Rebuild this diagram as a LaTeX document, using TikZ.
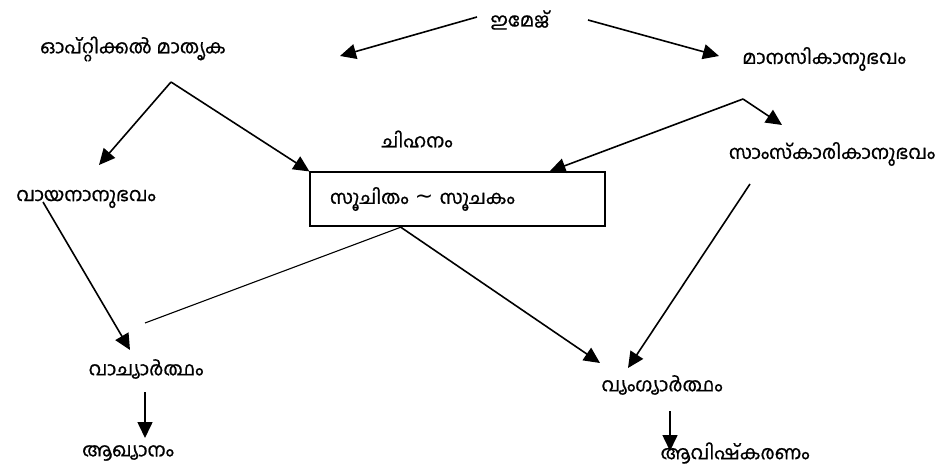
\documentclass[tikz,border=0pt]{standalone}
\usepackage{fontspec}
\newfontfamily\mlfont[Script=Malayalam,FakeBold=0.8]{Hind Kochi}
\newfontfamily\symfont{DejaVu Sans}
\usetikzlibrary{arrows.meta}
\begin{document}
\begin{tikzpicture}[x=1pt,y=-1pt,
	lbl/.style={font=\mlfont\fontsize{19}{21}\selectfont,inner sep=0pt},
	arr/.style={line width=1.6pt,-{Triangle[length=16pt,width=15pt]}},
	plain/.style={line width=1.1pt}]

	\useasboundingbox (0,0) rectangle (944,470);

	% top row
	\node[lbl] (image) at (520,20)  {ഇമേജ്};
	\node[lbl] (optic) at (133,49)  {ഓപ്റ്റിക്കൽ മാതൃക};
	\node[lbl] (manas) at (824,59)  {മാനസികാനുഭവം};

	% middle row
	\node[lbl] (chihn) at (417,139) {ചിഹനം};
	\node[lbl] (samsk) at (832,154) {സാംസ്കാരികാനുഭവം};
	\node[lbl] (vayan) at (86,199)  {വായനാനുഭവം};
	\node[lbl,draw,line width=1.1pt,inner xsep=20pt,text width=255pt,
		minimum height=54pt,align=left] (sucha) at (457.5,199)
		{സൂചിതം {\symfont\fontsize{22}{22}\selectfont\textasciitilde} സൂചകം};

	% bottom rows
	\node[lbl] (vachy) at (146,369) {വാച്യാർത്ഥം};
	\node[lbl] (vyang) at (662,385) {വ്യംഗ്യാർത്ഥം};
	\node[lbl] (akhya) at (128,453) {ആഖ്യാനം};
	\node[lbl] (avish) at (735,453) {ആവിഷ്കരണം};

	% free ends
	\coordinate (imgL)  at (477,17);
	\coordinate (imgR)  at (588,20);
	\coordinate (optT)  at (340,56);
	\coordinate (manT)  at (719,56);
	\coordinate (optA)  at (171,82);
	\coordinate (vayT)  at (99,165);
	\coordinate (manA)  at (743,99);
	\coordinate (samT)  at (782,125);
	\coordinate (vayS)  at (43,202);
	\coordinate (vacT)  at (130,350);
	\coordinate (vacR)  at (145,323);
	\coordinate (sucL)  at (404,226);
	\coordinate (sucR)  at (399,226);
	\coordinate (vyaL)  at (600,363);
	\coordinate (samS)  at (750,184);
	\coordinate (vyaR)  at (628,368);
	\coordinate (vacB)  at (145,392);
	\coordinate (akhT)  at (145,438);
	\coordinate (vyaB)  at (670,411);
	\coordinate (avsT)  at (670,451);

	%arrows from the top
	\draw[arr] (imgL) -- (optT);
	\draw[arr] (imgR) -- (manT);
	\draw[arr] (optA) -- (vayT);
	\draw[arr] (optA) -- (sucha.north west);
	\draw[arr] (manA) -- ([xshift=-56pt]sucha.north east);
	\draw[arr] (manA) -- (samT);

	%arrows to the meanings
	\draw[arr] (vayS) -- (vacT);
	\draw[plain] (vacR) -- (sucL);
	\draw[arr] (sucR) -- (vyaL);
	\draw[arr] (samS) -- (vyaR);

	%last step
	\draw[arr] (vacB) -- (akhT);
	\draw[arr] (vyaB) -- (avsT);

\end{tikzpicture}
\end{document}
